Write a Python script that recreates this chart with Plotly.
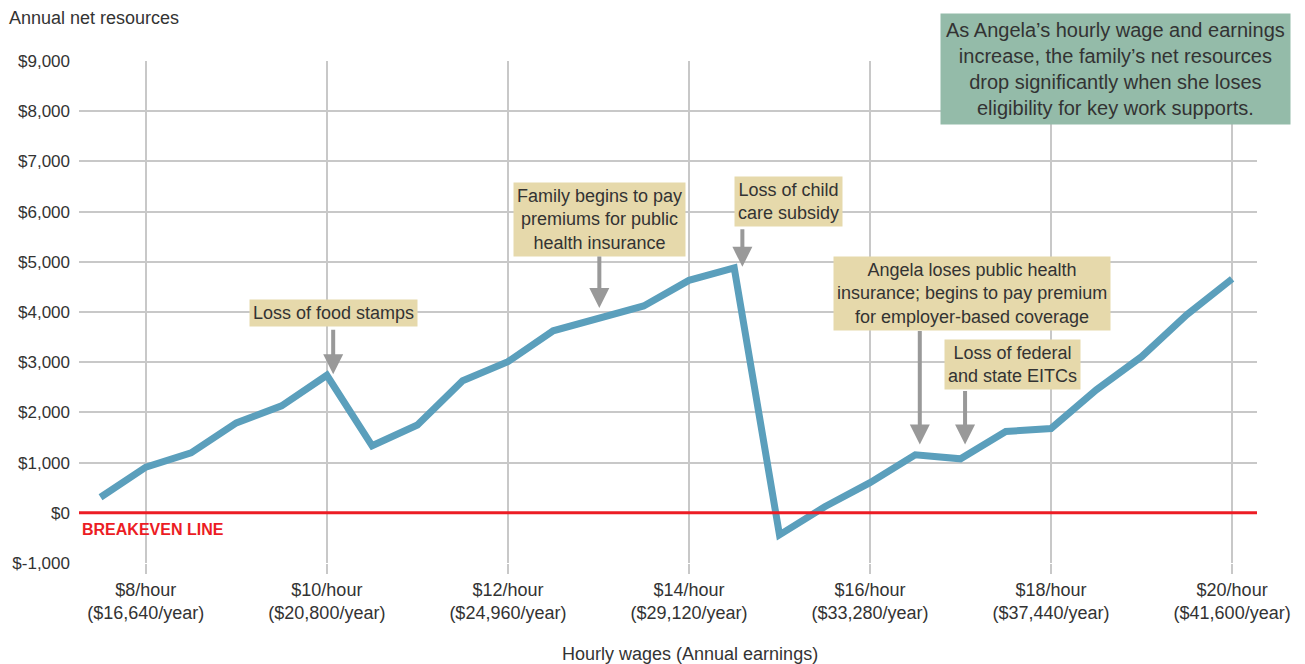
import plotly.graph_objects as go

# Data
wages = [7.5, 8, 8.5, 9, 9.5, 10, 10.5, 11, 11.5, 12, 12.5, 13, 13.5, 14, 14.5,
         15, 15.5, 16, 16.5, 17, 17.5, 18, 18.5, 19, 19.5, 20]
net_resources = [310, 910, 1195, 1790, 2130, 2740, 1335, 1750, 2630, 3010, 3625, 3885,
                 4120, 4630, 4880, -440, 120, 600, 1155, 1075, 1620, 1680, 2450, 3110,
                 3945, 4660]
x_tickvals = [8, 10, 12, 14, 16, 18, 20]
x_ticktext = ["$8/hour<br>($16,640/year)", "$10/hour<br>($20,800/year)",
              "$12/hour<br>($24,960/year)", "$14/hour<br>($29,120/year)",
              "$16/hour<br>($33,280/year)", "$18/hour<br>($37,440/year)",
              "$20/hour<br>($41,600/year)"]
y_tickvals = [-1000, 0, 1000, 2000, 3000, 4000, 5000, 6000, 7000, 8000, 9000]
y_ticktext = ["$-1,000", "$0", "$1,000", "$2,000", "$3,000", "$4,000", "$5,000",
              "$6,000", "$7,000", "$8,000", "$9,000"]

# callouts: text, arrow tip (x,y), box centre offset in px
callouts = [
    ("Loss of food stamps", 10.07, 2760, 0, -61),
    ("Family begins to pay<br>premiums for public<br>health insurance", 13.01, 4080, 0, -88),
    ("Loss of child<br>care subsidy", 14.59, 4900, 46, -65),
    ("Angela loses public health<br>insurance; begins to pay premium<br>for employer-based coverage", 16.55, 1360, 52, -151),
    ("Loss of federal<br>and state EITCs", 17.05, 1360, 47, -80),
]
arrow_len = [46, 53, 39, 115, 55]

FONT = "Liberation Sans, Arial, sans-serif"
TXT = "#333333"

fig = go.Figure()
fig.add_trace(go.Scatter(x=wages, y=net_resources, mode="lines",
                         line=dict(color="#5b9fbc", width=7), hoverinfo="skip"))

fig.add_shape(type="line", xref="paper", yref="y", x0=0, x1=1, y0=0, y1=0,
              line=dict(color="#ec1c24", width=3), layer="above")

anns = []
for (txt, tx, ty, dx, dy), alen in zip(callouts, arrow_len):
    anns.append(dict(x=tx, y=ty, xref="x", yref="y", text=txt, showarrow=False,
                     xanchor="center", yanchor="middle",
                     xshift=dx, yshift=-dy, bgcolor="#e6d9ab", borderpad=3,
                     font=dict(family=FONT, size=18, color=TXT)))
    anns.append(dict(x=tx, y=ty, xref="x", yref="y", text="", showarrow=True,
                     ax=0, ay=-alen, arrowcolor="#999999", arrowwidth=4,
                     arrowhead=2, arrowsize=1, standoff=0))

anns.append(dict(x=0.8797, y=0.984, xref="paper", yref="paper",
                 xanchor="center", yanchor="middle",
                 text="As Angela’s hourly wage and earnings<br>increase, the family’s net resources<br>drop significantly when she loses<br>eligibility for key work supports.",
                 showarrow=False, bgcolor="#94bba9", borderpad=5,
                 font=dict(family=FONT, size=20, color=TXT)))
anns.append(dict(x=0.001, y=0.066, xref="paper", yref="paper",
                 text="<b>BREAKEVEN LINE</b>",
                 showarrow=False, xanchor="left", yanchor="middle",
                 font=dict(family=FONT, size=16, color="#ec1c24")))
anns.append(dict(x=-0.061, y=1.086, xref="paper", yref="paper", text="Annual net resources",
                 showarrow=False, xanchor="left", yanchor="middle",
                 font=dict(family=FONT, size=18, color=TXT)))
anns.append(dict(x=0.519, y=-0.181, xref="paper", yref="paper",
                 text="Hourly wages (Annual earnings)",
                 showarrow=False, xanchor="center", yanchor="middle",
                 font=dict(family=FONT, size=18, color=TXT)))

fig.update_layout(
    width=1305, height=664,
    margin=dict(l=77, r=48, t=61, b=101),
    paper_bgcolor="white", plot_bgcolor="white",
    showlegend=False,
    font=dict(family=FONT, size=17, color=TXT),
    annotations=anns,
    xaxis=dict(range=[7.262, 20.275], tickvals=x_tickvals, ticktext=x_ticktext,
               showgrid=True, gridcolor="#c8c8c8", gridwidth=1.5,
               ticks="outside", ticklen=10, tickcolor="#c8c8c8", tickwidth=1.5,
               zeroline=False, showline=False, fixedrange=True,
               tickfont=dict(family=FONT, size=18, color=TXT)),
    yaxis=dict(range=[-1000, 9000], tickvals=y_tickvals, ticktext=y_ticktext,
               showgrid=True, gridcolor="#c8c8c8", gridwidth=1.5,
               zeroline=False, showline=False, ticks="", ticklabelstandoff=8,
               fixedrange=True,
               tickfont=dict(family=FONT, size=17, color=TXT)),
)

fig.write_html("out.html", config={"displayModeBar": False},
               post_script="document.body.style.margin='0';")
